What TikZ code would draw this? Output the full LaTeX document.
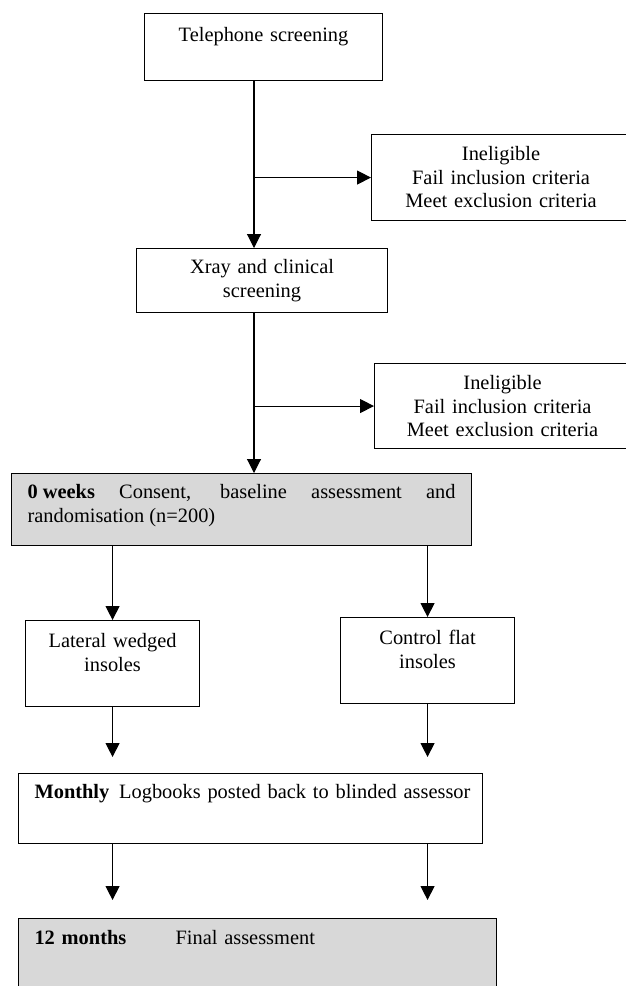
\documentclass[tikz,border=0pt]{standalone}
\usepackage{fontspec}
\setmainfont{Liberation Serif}
\usepackage{tikz}
\usetikzlibrary{arrows.meta}
\definecolor{boxgray}{RGB}{216,216,216}
\hyphenpenalty=10000

\begin{document}
\begin{tikzpicture}[x=1pt,y=-1pt,>={Triangle[length=14pt,width=14pt]},
  box/.style={draw,line width=1.1pt,inner xsep=16pt,inner ysep=0pt,anchor=north west,
    align=center,font=\fontsize{20.4}{23.5}\selectfont},
  arr/.style={->,line width=1.1pt}]
  \useasboundingbox (0,0) rectangle (626,986);
  \coordinate (spine) at (254,0);

  % screening
  \node[box,text width=206pt,text height=28pt,text depth=39pt] (tel) at (144,13) {Telephone screening};
  \node[box,text width=227pt,text height=26pt,text depth=60pt] (inel1) at (371,134)
    {Ineligible\\Fail inclusion criteria\\Meet exclusion criteria};
  \node[box,text width=219pt,text height=25pt,text depth=39pt] (xray) at (136,248)
    {Xray and clinical\\screening};
  \node[box,text width=224pt,text height=26pt,text depth=59pt] (inel2) at (374,363)
    {Ineligible\\Fail inclusion criteria\\Meet exclusion criteria};

  % trial
  \node[box,fill=boxgray,align=justify,text width=428pt,text height=25pt,text depth=47pt] (week0) at (11,473)
    {\mbox{\textbf{0 weeks}} Consent, baseline assessment and randomisation (n=200)};
  \node[box,text width=142pt,text height=27pt,text depth=59pt] (lateral) at (25,620)
    {Lateral wedged\\insoles};
  \node[box,text width=142pt,text height=27pt,text depth=59pt] (control) at (340,617)
    {Control flat\\insoles};
  \node[box,align=left,text width=432pt,text height=25pt,text depth=45pt] (monthly) at (18,773)
    {\mbox{\textbf{Monthly}\hspace{3pt} Logbooks posted back to blinded assessor}};
  \node[box,fill=boxgray,align=left,text width=446pt,text height=26pt,text depth=48pt] (final) at (18,918)
    {\makebox[141pt][l]{\textbf{12 months}}Final assessment};

  \draw[arr] (spine |- tel.south) -- (spine |- xray.north);
  \draw[arr] (spine |- inel1.west) -- (inel1.west);
  \draw[arr] (spine |- xray.south) -- (spine |- week0.north);
  \draw[arr] (spine |- inel2.west) -- (inel2.west);
  \draw[arr] (week0.south -| lateral.north) -- (lateral.north);
  \draw[arr] (week0.south -| control.north) -- (control.north);
  \draw[arr,shorten >=16pt] (lateral.south) -- (lateral.south |- monthly.north);
  \draw[arr,shorten >=16pt] (control.south) -- (control.south |- monthly.north);
  \draw[arr,shorten >=18pt] (lateral.south |- monthly.south) -- (lateral.south |- final.north);
  \draw[arr,shorten >=18pt] (control.south |- monthly.south) -- (control.south |- final.north);
\end{tikzpicture}
\end{document}
